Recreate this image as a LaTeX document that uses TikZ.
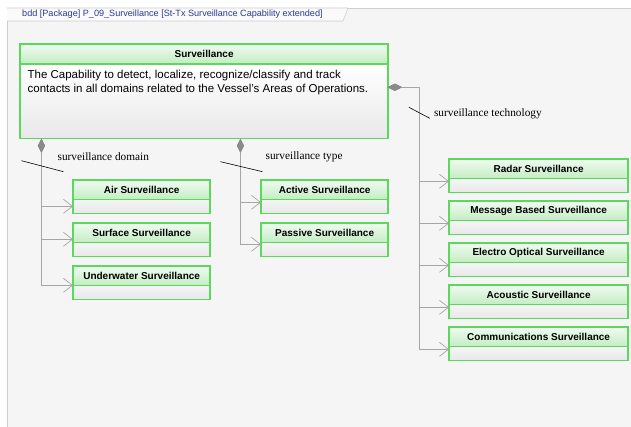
\documentclass[tikz,border=0pt]{standalone}
\usepackage{fontspec}
\setmainfont{Liberation Sans}
\newfontfamily\rolefont{Liberation Serif}
\usepackage{xcolor}
\usetikzlibrary{positioning,calc,arrows.meta}

\definecolor{umlgreen}{HTML}{5CD85C}
\definecolor{headtop}{HTML}{F0FAF0}
\definecolor{headbot}{HTML}{C2EDC2}
\definecolor{comptop}{HTML}{F4F4F4}
\definecolor{compbot}{HTML}{E8E8E8}
\definecolor{diagbg}{HTML}{F5F5F5}
\definecolor{framegray}{HTML}{CDCDCD}
\definecolor{linegray}{HTML}{A6A6A6}
\definecolor{diagray}{HTML}{8A8A8A}
\definecolor{titleblue}{HTML}{2B3A8F}

\begin{document}
\begin{tikzpicture}[x=1pt, y=-1pt,
    blockhead/.style={draw=umlgreen, line width=1.3pt, top color=headtop, bottom color=headbot,
      font=\bfseries\fontsize{10}{11}\selectfont, inner sep=0pt, minimum height=19pt, anchor=north west},
    blockcomp/.style={top color=comptop, bottom color=compbot, inner sep=0pt, minimum height=12.5pt},
    blockline/.style={draw=umlgreen, line width=1.3pt},
    assoc/.style={draw=linegray, line width=0.9pt,
      {Diamond[length=14pt, width=7pt, color=diagray, fill=diagray]}-{Straight Barb[length=9pt, width=14pt, line width=0.7pt]}},
    slash/.style={draw=black, line width=0.6pt},
    role/.style={font=\rolefont\fontsize{11.3}{13}\selectfont, anchor=west, inner sep=0pt}]
  \useasboundingbox (0,0) rectangle (631,427);

  % Diagram frame and title tab
  \fill[white] (0,0) rectangle (631,427);
  \fill[diagbg] (7,8) rectangle (631,427);
  \draw[framegray, line width=0.8pt] (7,427) -- (7,8) -- (631,8);
  \filldraw[fill=white!50!diagbg, draw=framegray, line width=0.6pt] (7,8) -- (348,8) -- (343,21) -- (7,21);
  \node[anchor=west, inner sep=0pt, text=titleblue, font=\fontsize{9.1}{10}\selectfont] (tabtitle) at (22,14.5)
    {bdd [Package] P\_09\_Surveillance [St-Tx Surveillance Capability extended]};

  % Main block
  \node[blockhead, minimum width=367pt] (surv) at (20,44) {Surveillance};
  \node[minimum width=367pt, minimum height=74pt, inner sep=0pt,
    top color=white, middle color=white, bottom color=compbot, below=0pt of surv] (survbody) {};
  \draw[blockline] (surv.north west) rectangle (survbody.south east);
  \draw[blockline] (surv.south west) -- (surv.south east);
  \node[anchor=north west, inner sep=0pt, align=left, font=\fontsize{11.5}{13.4}\selectfont]
    (survdesc) at ($(survbody.north west)+(7,6)$)
    {The Capability to detect, localize, recognize/classify and track\\
     contacts in all domains related to the Vessel's Areas of Operations.};

  % Domain blocks
  \foreach \n/\t/\y in {air/Air Surveillance/180, surface/Surface Surveillance/223, underwater/Underwater Surveillance/266} {
    \node[blockhead, minimum width=136pt] (\n) at (73,\y) {\t};
    \node[blockcomp, minimum width=136pt, below=0pt of \n] (\n-c) {};
    \draw[blockline] (\n.north west) rectangle (\n-c.south east);
  }
  % Type blocks
  \foreach \n/\t/\y in {active/Active Surveillance/180, passive/Passive Surveillance/223} {
    \node[blockhead, minimum width=126pt] (\n) at (261,\y) {\t};
    \node[blockcomp, minimum width=126pt, below=0pt of \n] (\n-c) {};
    \draw[blockline] (\n.north west) rectangle (\n-c.south east);
  }
  % Technology blocks
  \foreach \n/\t [count=\i from 0] in {radar/Radar Surveillance, message/Message Based Surveillance,
      electro/Electro Optical Surveillance, acoustic/Acoustic Surveillance, comms/Communications Surveillance} {
    \node[blockhead, minimum width=178pt] (\n) at (449,{159+42*\i}) {\t};
    \node[blockcomp, minimum width=178pt, below=0pt of \n] (\n-c) {};
    \draw[blockline] (\n.north west) rectangle (\n-c.south east);
  }

  % surveillance domain
  \coordinate (domroot) at ($(survbody.south west)+(21,0)$);
  \foreach \n/\dy in {air/-6, surface/4, underwater/1}
    \draw[assoc] (domroot) |- ([yshift=\dy pt]\n.south west);
  \draw[slash] ($(domroot)+(-20,22)$) -- ++(42,11);
  \node[role] (domlabel) at ($(domroot)+(16,18)$) {surveillance domain};

  % surveillance type
  \coordinate (typeroot) at ($(survbody.south west)+(220,0)$);
  \foreach \n/\dy in {active/-2, passive/-1}
    \draw[assoc] (typeroot) |- ([yshift=\dy pt]\n.south west);
  \draw[slash] ($(typeroot)+(-20,23)$) -- ++(42,10);
  \node[role] (typelabel) at ($(typeroot)+(25,18)$) {surveillance type};

  % surveillance technology
  \coordinate (techroot) at ($(survbody.north east)+(0,23)$);
  \coordinate (techbend) at ($(techroot)+(32,0)$);
  \foreach \n in {radar, message, electro, acoustic, comms}
    \draw[assoc] (techroot) -- (techbend) |- ([yshift=-2pt]\n.south west);
  \draw[slash] ($(techbend)+(-11,20)$) -- ++(21,11);
  \node[role] (techlabel) at ($(techbend)+(14,27)$) {surveillance technology};
\end{tikzpicture}
\end{document}
